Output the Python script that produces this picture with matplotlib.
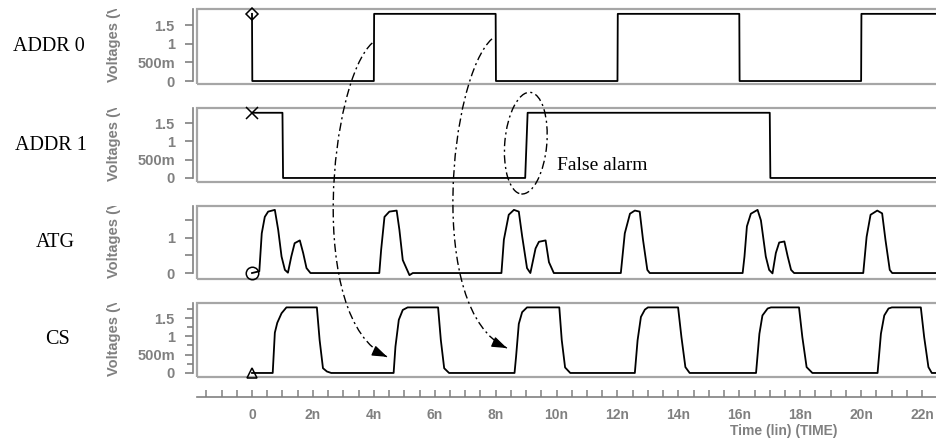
import matplotlib
matplotlib.use("Agg")
import matplotlib.pyplot as plt
import numpy as np
from matplotlib import transforms
from matplotlib.font_manager import FontProperties
from matplotlib.patches import Rectangle, Ellipse, FancyArrowPatch, PathPatch
from matplotlib.path import Path

# ---- waveform data (time in ns, voltage in V) ----
addr0_t = [0, 0.01, 4.0, 4.01, 8.0, 8.01, 12.0, 12.01, 16.0, 16.01, 20.0, 20.01, 22.7]
addr0_v = [1.8, 0, 0, 1.8, 1.8, 0, 0, 1.8, 1.8, 0, 0, 1.8, 1.8]

addr1_t = [0, 1.0, 1.02, 8.97, 9.05, 17.0, 17.02, 22.7]
addr1_v = [1.78, 1.78, 0, 0, 1.78, 1.78, 0, 0]

atg_t = [0, 0.24, 0.32, 0.42, 0.53, 0.75, 0.86, 0.97, 1.08, 1.18, 1.29, 1.40, 1.57, 1.68, 1.79, 1.92,
         4.18, 4.24, 4.35, 4.51, 4.75, 4.84, 4.95, 5.17, 5.28,
         8.19, 8.27, 8.43, 8.60, 8.76, 8.87, 9.03, 9.14, 9.31, 9.42, 9.64, 9.75, 9.91,
         12.11, 12.24, 12.41, 12.57, 12.73, 12.84, 12.98, 13.06,
         16.11, 16.17, 16.25, 16.38, 16.60, 16.71, 16.87, 16.98, 17.09, 17.20, 17.31, 17.48, 17.59, 17.70, 17.80,
         20.07, 20.18, 20.31, 20.53, 20.69, 20.80, 20.94, 21.02, 22.7]
atg_v = [0, 0.05, 1.13, 1.60, 1.75, 1.80, 1.23, 0.47, 0.09, 0.01, 0.47, 0.85, 0.93, 0.57, 0.14, 0,
         0, 0.66, 1.60, 1.75, 1.78, 1.23, 0.37, -0.06, 0,
         0, 0.95, 1.66, 1.80, 1.75, 1.05, 0.14, 0, 0.70, 0.89, 0.93, 0.31, 0,
         0, 1.13, 1.69, 1.78, 1.75, 0.94, 0.09, 0,
         0, 0.47, 1.33, 1.69, 1.80, 1.50, 0.47, 0.09, -0.01, 0.57, 0.87, 0.90, 0.47, 0.09, 0,
         0, 1.03, 1.66, 1.78, 1.70, 0.94, 0.09, 0, 0]

cs_t = [0, 0.68, 0.75, 0.83, 0.97, 1.13, 2.13, 2.22, 2.33, 2.46, 2.60,
        4.65, 4.71, 4.82, 4.95, 5.11, 6.11, 6.20, 6.31, 6.47,
        8.62, 8.67, 8.76, 8.87, 9.03, 10.09, 10.17, 10.28, 10.45,
        12.57, 12.66, 12.77, 12.90, 13.00, 13.99, 14.10, 14.23, 14.37,
        16.55, 16.66, 16.76, 16.93, 17.04, 17.96, 18.07, 18.21, 18.40,
        20.54, 20.65, 20.76, 20.90, 21.01, 21.96, 22.07, 22.21, 22.32, 22.7]
cs_v = [0, 0, 1.10, 1.37, 1.63, 1.79, 1.79, 0.90, 0.13, 0.04, 0,
        0, 0.72, 1.45, 1.72, 1.79, 1.79, 0.90, 0.13, 0,
        0, 0.44, 1.34, 1.66, 1.79, 1.79, 0.90, 0.15, 0,
        0, 0.89, 1.53, 1.73, 1.79, 1.79, 0.98, 0.16, 0,
        0, 1.07, 1.57, 1.76, 1.79, 1.79, 0.98, 0.16, 0,
        0, 1.07, 1.57, 1.76, 1.79, 1.79, 0.98, 0.16, 0, 0]

signal_names = ["ADDR 0", "ADDR 1", "ATG", "CS"]
time_ticks = [0, 2, 4, 6, 8, 10, 12, 14, 16, 18, 20, 22]
time_labels = ["0", "2n", "4n", "6n", "8n", "10n", "12n", "14n", "16n", "18n", "20n", "22n"]
addr_ticks = [0, 0.5, 1, 1.5]
addr_labels = ["0", "500m", "1", "1.5"]
atg_ticks = [0, 0.5, 1, 1.5]
atg_labels = ["0", "", "1", ""]
cs_minor = [0.25, 0.75, 1.25, 1.75]

W, H = 936, 441
GRAY = "#808080"
FRAME = "#a6a6a6"
gfont = FontProperties(family="Liberation Sans", weight="bold", size=10.5)
tfont = FontProperties(family="Liberation Sans", weight="bold", size=10)

fig = plt.figure(figsize=(W / 100, H / 100), dpi=100)


def px_axes(x0, y0, x1, y1):
    return fig.add_axes([x0 / W, 1 - y1 / H, (x1 - x0) / W, (y1 - y0) / H])


xlim = (-1.806, 22.59)
panels = [
    (9, 84, (-0.08, 1.93), addr0_t, addr0_v, addr_ticks, addr_labels),
    (108, 182, (-0.11, 1.91), addr1_t, addr1_v, addr_ticks, addr_labels),
    (206, 279, (-0.17, 1.91), atg_t, atg_v, atg_ticks, atg_labels),
    (303, 377, (-0.11, 1.91), cs_t, cs_v, addr_ticks, addr_labels),
]
label_x = [49, 51, 55, 57]
markers = [("D", 6), ("x", 8), ("o", 9), ("^", 7)]

axes = []
for i, (y0, y1, ylim, t, v, yt, yl) in enumerate(panels):
    ax = px_axes(197, y0, 940, y1)
    ax.set_xlim(*xlim)
    ax.set_ylim(*ylim)
    for s in ["top", "right", "bottom"]:
        ax.spines[s].set_visible(False)
    ax.spines["left"].set_position(("outward", 3))
    ax.spines["left"].set_color(GRAY)
    ax.spines["left"].set_linewidth(1.2)
    ax.spines["left"].set_bounds(0, ylim[1])
    ax.add_patch(Rectangle((0, 0), 1, 1, transform=ax.transAxes, fill=False,
                           ec=FRAME, lw=1.6, clip_on=False, zorder=1))
    ax.set_xticks([])
    ax.set_yticks(yt, yl, fontproperties=gfont, color=GRAY)
    if i == 3:
        ax.set_yticks(cs_minor, minor=True)
    ax.tick_params(axis="y", which="both", direction="out", length=6, width=1.2,
                   color=GRAY, pad=7)
    ax.tick_params(axis="y", which="minor", length=4)
    ax.plot(t, v, color="black", lw=1.3, zorder=3, solid_joinstyle="round")
    m, ms = markers[i]
    ax.plot([0], [v[0]], marker=m, ms=ms, mfc="none", mec="black", mew=1.1,
            ls="none", zorder=4, clip_on=False)

    # signal name on the left
    tr = transforms.blended_transform_factory(fig.transFigure, ax.transAxes)
    fig.text(label_x[i] / W, 0.5, signal_names[i], transform=tr, ha="center", va="center",
             family="Liberation Serif", fontsize=14.5)
    # clipped y-axis label
    vt = ax.text(114 / W, 0.02, "Voltages (V)", transform=tr, rotation=90,
                 ha="center", va="bottom", fontproperties=gfont, color=GRAY, clip_on=True)
    vt.set_clip_box(transforms.TransformedBbox(transforms.Bbox([[0, 0], [1, 1]]), tr))
    axes.append(ax)

# time axis
tax = px_axes(197, 396, 940, 397)
tax.set_xlim(*xlim)
tax.set_yticks([])
for s in ["top", "right", "left"]:
    tax.spines[s].set_visible(False)
tax.spines["bottom"].set_color(GRAY)
tax.spines["bottom"].set_linewidth(1.2)
tax.set_xticks(time_ticks, time_labels, fontproperties=tfont, color=GRAY)
tax.set_xticks([x / 2 for x in range(-3, 46)], minor=True)
tax.tick_params(axis="x", which="both", direction="in", length=5, width=1.1, color=GRAY, pad=8)
tax.patch.set_visible(False)
fig.text(784 / W, 1 - 431 / H, "Time (lin) (TIME)", ha="center", va="center",
         fontproperties=tfont, color=GRAY)

# dash-dot annotation curves with solid arrow heads
dd = (0, (6, 2.5, 1.5, 2.5))
ident = transforms.IdentityTransform()
arrows = [((3.95, 1.02), (4.44, 0.44)), ((7.88, 1.13), (8.37, 0.68))]
for (a, b) in arrows:
    p0 = axes[0].transData.transform(a)
    p3 = axes[3].transData.transform(b)
    p1 = (p0[0] - 42, p0[1] - 37)
    p2 = (p3[0] - 82, p3[1] + 37)
    path = Path([p0, p1, p2, p3], [Path.MOVETO, Path.CURVE4, Path.CURVE4, Path.CURVE4])
    fig.add_artist(PathPatch(path, fill=False, ec="black", lw=1.0, linestyle=dd,
                             transform=ident))
    u = (p3 - np.array(p2)) / np.hypot(*(p3 - np.array(p2)))
    fig.add_artist(FancyArrowPatch(posA=tuple(p3 - 14 * u), posB=tuple(p3),
                                   arrowstyle="-|>,head_length=0.9,head_width=0.32",
                                   mutation_scale=10, color="black", lw=1.0,
                                   shrinkA=0, shrinkB=0, transform=ident))

# ellipse around the ADDR1 rising edge
off = transforms.ScaledTranslation(8.99, 0.95, axes[1].transData)
ell = Ellipse((0, 0), 42, 102, angle=-5, transform=off, fill=False, ec="black",
              lw=1.0, linestyle=dd, clip_on=False)
fig.add_artist(ell)
axes[1].text(10.0, 0.35, "False alarm", ha="left", va="center",
             family="Liberation Serif", fontsize=14)

fig.savefig("out.png", dpi=100)
